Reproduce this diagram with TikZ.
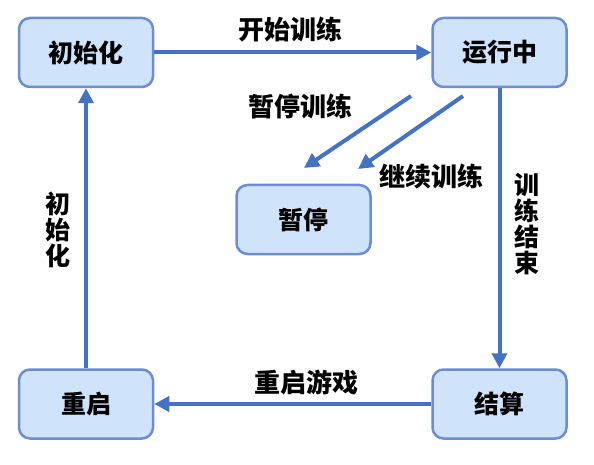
\documentclass[tikz,border=0pt]{standalone}
\usepackage{fontspec}
\setmainfont{Noto Sans CJK SC}
\usetikzlibrary{arrows.meta}
\definecolor{lineblue}{HTML}{4472C4}
\definecolor{boxfill}{HTML}{CFE3FB}
\definecolor{boxedge}{HTML}{6C8DD2}
\tikzset{
  x=1pt,y=-1pt,
  statebox/.style={draw=boxedge,fill=boxfill,line width=2.5pt,rounded corners=11pt,
    minimum width=134pt,minimum height=69pt,font=\fontsize{25}{25}\selectfont\bfseries},
  conn/.style={draw=lineblue,line width=4pt,-{Triangle[length=15pt,width=15pt]}},
  lbl/.style={font=\fontsize{26}{26}\selectfont\bfseries,inner sep=0pt},
  vlbl/.style={font=\fontsize{25}{26}\selectfont\bfseries,inner sep=0pt,align=center}
}
\begin{document}
\begin{tikzpicture}
\useasboundingbox (0,0) rectangle (594,465);
\node[statebox] (init) at (86,52.5) {初始化};
\node[statebox] (run) at (499.5,52.5) {运行中};
\node[statebox] (pause) at (303.5,219.5) {暂停};
\node[statebox] (restart) at (86,404) {重启};
\node[statebox] (settle) at (499.5,404) {结算};
\coordinate (p1s) at (411,96);
\coordinate (p1e) at (304,168);
\coordinate (p2s) at (463,96);
\coordinate (p2e) at (358,169);
\draw[conn] (init) -- (run);
\draw[conn] (run) -- (settle);
\draw[conn] (settle) -- (restart);
\draw[conn] (restart) -- (init);
\draw[conn] (p1s) -- (p1e);
\draw[conn] (p2s) -- (p2e);
\node[lbl] (l1) at (290,30) {开始训练};
\node[lbl] (l2) at (300,106) {暂停训练};
\node[lbl] (l3) at (431,176) {继续训练};
\node[lbl] (l4) at (306,382) {重启游戏};
\node[vlbl] (l5) at (527,224) {训\\练\\结\\束};
\node[vlbl] (l6) at (58,230) {初\\始\\化};
\end{tikzpicture}
\end{document}
